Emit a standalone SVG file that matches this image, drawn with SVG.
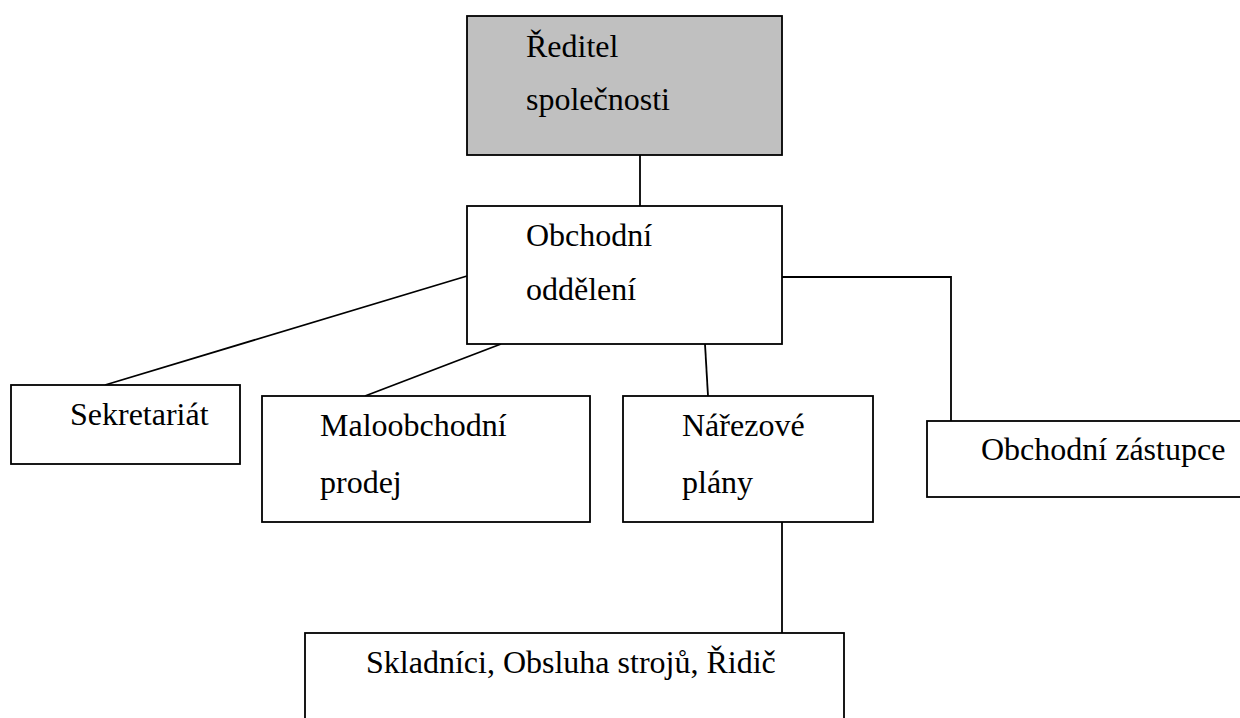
<svg xmlns="http://www.w3.org/2000/svg" width="1240" height="718" viewBox="0 0 1240 718">
<style>
.box{fill:#ffffff;stroke:#000000;stroke-width:1.8}
.dir{fill:#c0c0c0;stroke:#000000;stroke-width:1.8}
.ln{fill:none;stroke:#000000;stroke-width:1.8}
.t{font-family:'Liberation Serif','Times New Roman','DejaVu Serif',serif;font-size:32px;fill:#000000}
</style>
<rect width="1240" height="718" fill="#ffffff"/>
<g id="connectors">
<line class="ln" x1="640" y1="155" x2="640" y2="206"/>
<line class="ln" x1="105" y1="385" x2="467" y2="276"/>
<line class="ln" x1="365" y1="396" x2="501" y2="344"/>
<line class="ln" x1="705" y1="344" x2="708" y2="396"/>
<polyline class="ln" points="782,277 951,277 951,421"/>
<line class="ln" x1="782" y1="522" x2="782" y2="633"/>
</g>
<g id="reditel">
<rect class="dir" x="467" y="16" width="315" height="139"/>
<text class="t" x="526" y="57">Ředitel</text>
<text class="t" x="526" y="110">společnosti</text>
</g>
<g id="obchodni-oddeleni">
<rect class="box" x="467" y="206" width="315" height="138"/>
<text class="t" x="526" y="246">Obchodní</text>
<text class="t" x="526" y="300">oddělení</text>
</g>
<g id="sekretariat">
<rect class="box" x="11" y="385" width="229" height="79"/>
<text class="t" x="70" y="425">Sekretariát</text>
</g>
<g id="maloobchodni-prodej">
<rect class="box" x="262" y="396" width="328" height="126"/>
<text class="t" x="320" y="436">Maloobchodní</text>
<text class="t" x="320" y="493">prodej</text>
</g>
<g id="narezove-plany">
<rect class="box" x="623" y="396" width="250" height="126"/>
<text class="t" x="682" y="436">Nářezové</text>
<text class="t" x="682" y="493">plány</text>
</g>
<g id="obchodni-zastupce">
<rect class="box" x="927" y="421" width="330" height="76"/>
<text class="t" x="981" y="460">Obchodní zástupce</text>
</g>
<g id="skladnici">
<rect class="box" x="305" y="633" width="539" height="100"/>
<text class="t" x="366" y="673">Skladníci, Obsluha strojů, Řidič</text>
</g>
</svg>
